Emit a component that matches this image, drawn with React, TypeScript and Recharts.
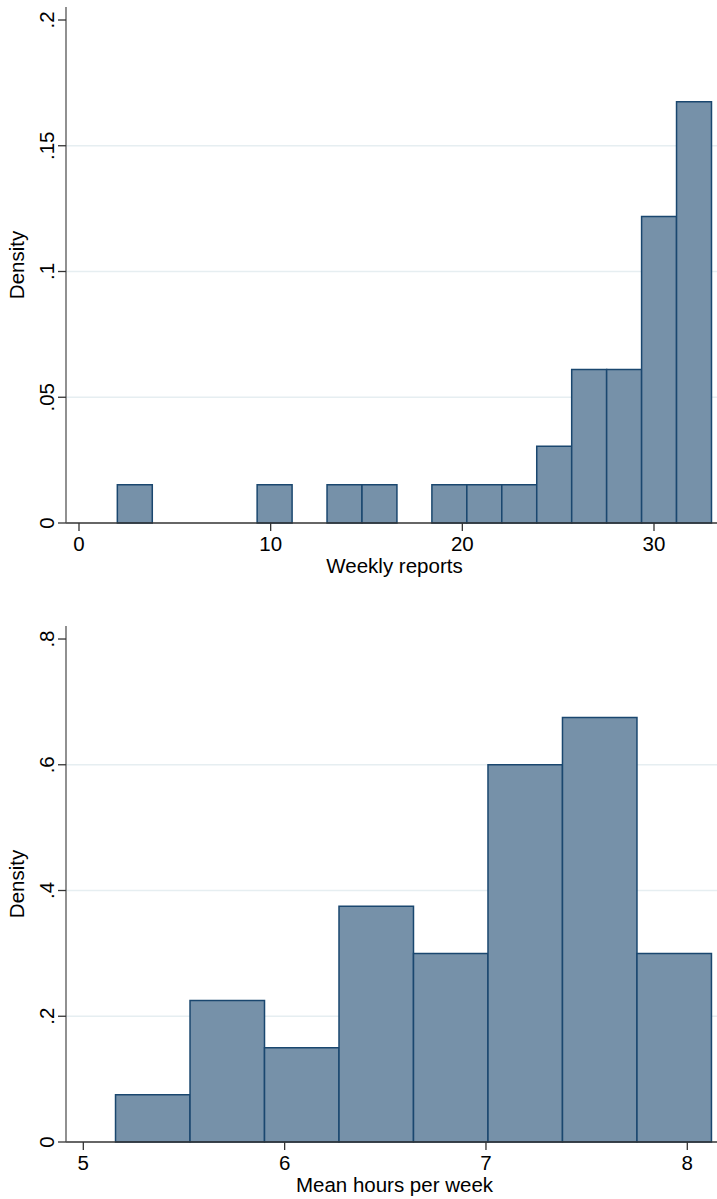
import React from 'react';
import { ComposedChart, XAxis, YAxis, CartesianGrid, ReferenceArea } from 'recharts';

// ---- Top histogram: Weekly reports ----
const weeklyEdges = [2, 3.824, 5.647, 7.471, 9.294, 11.118, 12.941, 14.765, 16.588, 18.412, 20.235, 22.059, 23.882, 25.706, 27.529, 29.353, 31.176, 33];
const weeklyDensity = [0.0152, 0, 0, 0, 0.0152, 0, 0.0152, 0.0152, 0, 0.0152, 0.0152, 0.0152, 0.0305, 0.061, 0.061, 0.1219, 0.1675];
const weeklyXTicks = [0, 10, 20, 30];
const weeklyYTicks = [0, 0.05, 0.1, 0.15, 0.2];
const weeklyYLabels = ['0', '.05', '.1', '.15', '.2'];
const weeklyGrid = [0.05, 0.1, 0.15];

// ---- Bottom histogram: Mean hours per week ----
const hoursEdges = [5.16, 5.53, 5.9, 6.27, 6.64, 7.01, 7.38, 7.75, 8.12];
const hoursDensity = [0.075, 0.225, 0.15, 0.375, 0.3, 0.6, 0.675, 0.3];
const hoursXTicks = [5, 6, 7, 8];
const hoursYTicks = [0, 0.2, 0.4, 0.6, 0.8];
const hoursYLabels = ['0', '.2', '.4', '.6', '.8'];
const hoursGrid = [0.2, 0.4, 0.6];

const FONT = '"Liberation Sans", Arial, Helvetica, sans-serif';
const FILL = '#7691a9';
const EDGE = '#1a476f';
const AXIS = '#333333';
const GRID = '#e6eef1';
const FS = 20.5;

type HistProps = {
  edges: number[];
  density: number[];
  xDomain: [number, number];
  yDomain: [number, number];
  xTicks: number[];
  yTicks: number[];
  yLabels: string[];
  grid: number[];
  xLabel: string;
  height: number;
  marginTop: number;
  xAxisHeight: number;
};

function Histogram(p: HistProps) {
  const bins = p.density.map((d, i) => ({
    lo: p.edges[i],
    hi: p.edges[i + 1],
    mid: (p.edges[i] + p.edges[i + 1]) / 2,
    density: d,
  }));

  const XTick = (props: any) => {
    const { x, y, payload } = props;
    return (
      <text x={x} y={y + 18} textAnchor="middle" fontSize={FS} fontFamily={FONT} fill="#000">
        {String(payload.value)}
      </text>
    );
  };

  const YTick = (props: any) => {
    const { x, y, payload } = props;
    const idx = p.yTicks.findIndex((v) => Math.abs(v - payload.value) < 1e-9);
    const label = idx >= 0 ? p.yLabels[idx] : String(payload.value);
    const bx = x - 4;
    return (
      <text
        x={bx}
        y={y}
        transform={`rotate(-90, ${bx}, ${y})`}
        textAnchor="middle"
        fontSize={FS}
        fontFamily={FONT}
        fill="#000"
      >
        {label}
      </text>
    );
  };

  const YLabel = (props: any) => {
    const vb = props.viewBox || {};
    const cx = (vb.x ?? 0) + 24;
    const cy = (vb.y ?? 0) + (vb.height ?? 0) / 2;
    return (
      <text
        x={cx}
        y={cy}
        transform={`rotate(-90, ${cx}, ${cy})`}
        textAnchor="middle"
        fontSize={FS}
        fontFamily={FONT}
        fill="#000"
      >
        Density
      </text>
    );
  };

  const XLabel = (props: any) => {
    const vb = props.viewBox || {};
    const cx = (vb.x ?? 0) + (vb.width ?? 0) / 2 + 3;
    const cy = (vb.y ?? 0) + 50;
    return (
      <text x={cx} y={cy} textAnchor="middle" fontSize={FS} fontFamily={FONT} fill="#000">
        {p.xLabel}
      </text>
    );
  };

  return (
    <ComposedChart
      width={717}
      height={p.height}
      data={bins}
      margin={{ top: p.marginTop, right: 0, left: 0, bottom: 0 }}
    >
      <CartesianGrid
        horizontal={true}
        vertical={false}
        horizontalValues={p.grid}
        stroke={GRID}
        strokeWidth={1.4}
      />
      <XAxis
        dataKey="mid"
        type="number"
        domain={p.xDomain}
        allowDataOverflow
        ticks={p.xTicks}
        interval={0}
        height={p.xAxisHeight}
        tickSize={8}
        tickMargin={2}
        axisLine={{ stroke: AXIS, strokeWidth: 1.4 }}
        tickLine={{ stroke: AXIS, strokeWidth: 1.3 }}
        tick={<XTick />}
        label={{ content: <XLabel /> }}
      />
      <YAxis
        type="number"
        domain={p.yDomain}
        allowDataOverflow
        ticks={p.yTicks}
        interval={0}
        width={66}
        tickSize={8}
        tickMargin={0}
        axisLine={{ stroke: '#555555', strokeWidth: 1.3 }}
        tickLine={{ stroke: AXIS, strokeWidth: 1.3 }}
        tick={<YTick />}
        label={{ content: <YLabel /> }}
      />
      {bins
        .filter((b) => b.density > 0)
        .map((b, i) => (
          <ReferenceArea
            key={i}
            x1={b.lo}
            x2={b.hi}
            y1={0}
            y2={b.density}
            fill={FILL}
            fillOpacity={1}
            stroke={EDGE}
            strokeWidth={1.5}
            ifOverflow="visible"
          />
        ))}
    </ComposedChart>
  );
}

export default function App() {
  return (
    <div style={{ position: 'absolute', left: 0, top: 0, width: 717, height: 1199, background: '#fff' }}>
      <Histogram
        edges={weeklyEdges}
        density={weeklyDensity}
        xDomain={[-0.678, 33.287]}
        yDomain={[0, 0.20517]}
        xTicks={weeklyXTicks}
        yTicks={weeklyYTicks}
        yLabels={weeklyYLabels}
        grid={weeklyGrid}
        xLabel="Weekly reports"
        height={600}
        marginTop={7}
        xAxisHeight={77}
      />
      <Histogram
        edges={hoursEdges}
        density={hoursDensity}
        xDomain={[4.914, 8.1475]}
        yDomain={[0, 0.8207]}
        xTicks={hoursXTicks}
        yTicks={hoursYTicks}
        yLabels={hoursYLabels}
        grid={hoursGrid}
        xLabel="Mean hours per week"
        height={599}
        marginTop={26}
        xAxisHeight={57}
      />
    </div>
  );
}
